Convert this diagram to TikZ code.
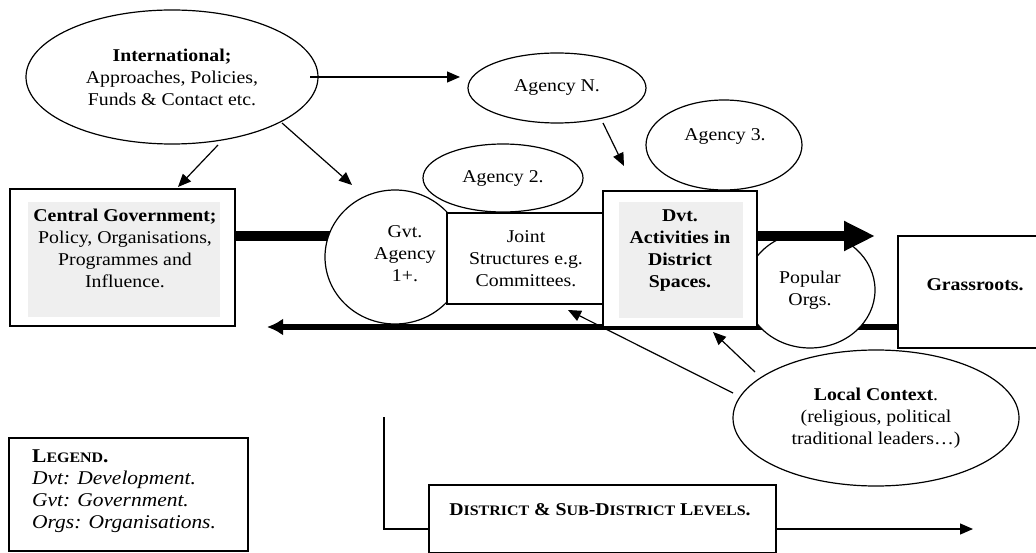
\documentclass[tikz,border=0pt]{standalone}
\usepackage{fontspec}
\setmainfont{Liberation Serif}[FakeStretch=1.1]
\usetikzlibrary{shapes.geometric,arrows.meta,calc}
\definecolor{boxgray}{HTML}{EFEFEF}
\newcommand{\scx}[1]{{\fontsize{14.5}{14.5}\selectfont #1}}
\begin{document}
\begin{tikzpicture}[x=1pt,y=-1pt,
  every node/.style={font=\fontsize{18}{22}\selectfont, inner sep=0pt},
  ell/.style={draw, ellipse, fill=white, line width=1.2pt, align=center},
  bx/.style={draw, rectangle, fill=white, line width=1.2pt, align=center},
  txt/.style={align=center},
  arr/.style={line width=1.2pt, -{Triangle[length=13pt,width=11pt]}},
  thin/.style={line width=1.2pt},
  grayin/.style 2 args={path picture={\fill[boxgray]
      ($(path picture bounding box.south west)+(#1)$) rectangle
      ($(path picture bounding box.north east)+(#2)$);}}
]
\useasboundingbox (0,0) rectangle (1036,553);

% back arrow (grassroots -> left)
\node[bx, minimum width=154pt, minimum height=112pt] (grass) at (975,292) {};
\coordinate (backtip) at (267,327);
\draw[line width=5.5pt, -{Latex[length=16pt,width=17pt]}] (grass.west |- 0,327) -- (backtip);

% popular orgs ellipse under the thick arrow
\node[ell, minimum width=130pt, minimum height=116pt] (pop) at (810,290) {Popular\\Orgs.};

% Central government box
\node[bx, minimum width=225pt, minimum height=137pt, grayin={18pt,9pt}{-15pt,-13pt}] (cg) at (122.5,257.5) {};
\node[txt] (cgt) at (125,248) {\textbf{Central Government;}\\Policy, Organisations,\\Programmes and\\Influence.};

% thick arrow
\coordinate (thicktip) at (875,236);
\draw[line width=10pt, -{Triangle[length=31pt,width=28pt]}] (cg.east |- 0,236) -- (thicktip);

% Gvt agency, agency 2, joint structures, dvt box
\node[ell, minimum width=140pt, minimum height=134pt] (gvt) at (395,257) {};
\node[txt] (gvtt) at (405,254) {Gvt.\\Agency\\1+.};
\node[ell, minimum width=160pt, minimum height=68pt] (ag2) at (503,178) {Agency 2.};
\node[bx, minimum width=158pt, minimum height=91pt] (joint) at (526,258.5) {Joint\\Structures e.g.\\Committees.};
\node[bx, minimum width=154pt, minimum height=136pt, grayin={16pt,9pt}{-14pt,-11pt}] (dvt) at (680,259) {};
\node[txt] (dvtt) at (680,251) {\textbf{Dvt.}\\\textbf{Activities in}\\\textbf{District}\\\textbf{Spaces.}};

% grassroots text
\node (grasst) at (975,285) {\textbf{Grassroots.}};

% International and agencies
\node[ell, minimum width=292pt, minimum height=134pt] (intl) at (172,77) {\textbf{International;}\\Approaches, Policies,\\Funds \& Contact etc.};
\node[ell, minimum width=178pt, minimum height=70pt] (agn) at (557,88) {Agency N.};
\node[ell, minimum width=156pt, minimum height=90pt] (ag3) at (724,145) {};
\node (ag3t) at (725,136) {Agency 3.};

% Local context
\node[ell, minimum width=286pt, minimum height=136pt] (loc) at (876,418) {\textbf{Local Context}.\\(religious, political\\traditional leaders\dots)};

% thin arrows
\coordinate (a1s) at (310,77);  \coordinate (a1e) at (460,77);
\draw[arr] (a1s) -- (a1e);
\coordinate (a2s) at (218,145); \coordinate (a2e) at (178,187);
\draw[arr] (a2s) -- (a2e);
\coordinate (a3s) at (282,123); \coordinate (a3e) at (352,185);
\draw[arr] (a3s) -- (a3e);
\coordinate (a4s) at (603,123); \coordinate (a4e) at (624,166);
\draw[arr] (a4s) -- (a4e);
\coordinate (a5s) at (733,393); \coordinate (a5e) at (568,310);
\draw[arr] (a5s) -- (a5e);
\coordinate (a6s) at (755,372); \coordinate (a6e) at (713,332);
\draw[arr] (a6s) -- (a6e);

% legend
\node[bx, minimum width=239pt, minimum height=113pt] (leg) at (128.5,494.5) {};
\node[align=left, anchor=north west, font=\fontsize{19.5}{22}\selectfont] (legt) at (32,450)
  {\textbf{L\scx{EGEND}.}\\\textit{Dvt: Development.}\\\textit{Gvt: Government.}\\\textit{Orgs: Organisations.}};

% district levels
\node[bx, minimum width=347pt, minimum height=68pt] (dist) at (602.5,519) {};
\node (distt) at (600,510) {\textbf{D\scx{ISTRICT} \& S\scx{UB}-D\scx{ISTRICT} L\scx{EVELS}.}};
\coordinate (brtop) at (384,417);
\coordinate (brcorner) at (384,529);
\coordinate (distend) at (973,529);
\draw[thin] (brtop) -- (brcorner) -- (brcorner -| dist.west);
\draw[arr] (dist.east |- brcorner) -- (distend);
\end{tikzpicture}
\end{document}
